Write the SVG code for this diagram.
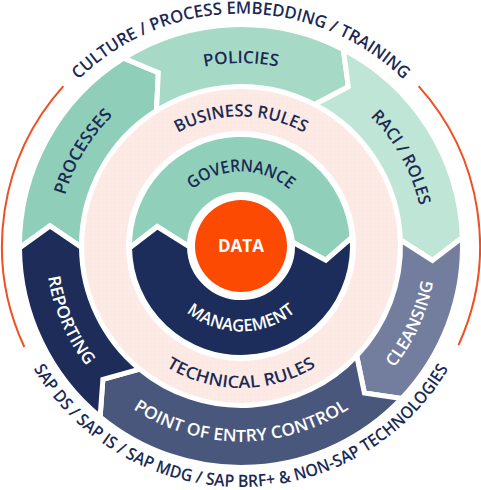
<svg xmlns="http://www.w3.org/2000/svg" width="481" height="490" viewBox="0 0 481 490">
<style>
.seg{stroke:#ffffff;stroke-width:5;stroke-linejoin:miter}
.lbl{font-family:"Open Sans","Liberation Sans",sans-serif;font-weight:600;font-size:17px}
.dk{fill:#1b2a55}
.lt{fill:#ffffff}
.arc{fill:none;stroke:#f04e23;stroke-width:2}
</style>
<defs>
<pattern id="dots" width="4" height="4" patternUnits="userSpaceOnUse">
<rect width="4" height="4" fill="#fce9e3"/>
<circle cx="1" cy="1" r="0.6" fill="#ffffff" opacity="0.55"/>
</pattern>
<path id="cw233" d="M8.5,246 A232.5,232.5 0 0 1 473.5,246 A232.5,232.5 0 0 1 8.5,246"/>
<path id="ccw241" d="M0,246 A241,241 0 0 0 482,246 A241,241 0 0 0 0,246"/>
<path id="cw183" d="M58,246 A183,183 0 0 1 424,246 A183,183 0 0 1 58,246"/>
<path id="ccw195" d="M45.5,246 A195.5,195.5 0 0 0 436.5,246 A195.5,195.5 0 0 0 45.5,246"/>
<path id="cw130" d="M111.5,246 A129.5,129.5 0 0 1 370.5,246 A129.5,129.5 0 0 1 111.5,246"/>
<path id="ccw141" d="M99,246 A142,142 0 0 0 383,246 A142,142 0 0 0 99,246"/>
<path id="cw75" d="M166.5,246 A74.5,74.5 0 0 1 315.5,246 A74.5,74.5 0 0 1 166.5,246"/>
<path id="ccw85" d="M155.5,246 A85.5,85.5 0 0 0 326.5,246 A85.5,85.5 0 0 0 155.5,246"/>
</defs>

<g id="outer-arcs">
<path class="arc" d="M24.39,347.01 A239,239 0 0 1 63.39,86.08"/>
<path class="arc" d="M418.61,86.08 A239,239 0 0 1 458.48,345.11"/>
</g>

<g id="culture">
<text class="lbl dk"><textPath href="#cw233" startOffset="25%" text-anchor="middle" textLength="360" lengthAdjust="spacingAndGlyphs">CULTURE / PROCESS EMBEDDING / TRAINING</textPath></text>
</g>
<g id="technologies">
<text class="lbl dk"><textPath href="#ccw241" startOffset="25%" text-anchor="middle" textLength="500" lengthAdjust="spacingAndGlyphs">SAP DS / SAP IS / SAP MDG / SAP BRF+ &amp; NON-SAP TECHNOLOGIES</textPath></text>
</g>

<g id="processes">
<path class="seg" fill="#8fceb8" d="M19.5,247.9 A221.5,221.5 0 0 1 123.62,58.16 L158.34,72.70 L156.48,110.74 A159.5,159.5 0 0 0 81.5,247.4 L50.05,225.9 Z"/>
<text class="lbl dk"><textPath href="#cw183" startOffset="8.56%" text-anchor="middle" textLength="94" lengthAdjust="spacingAndGlyphs">PROCESSES</textPath></text>
</g>
<g id="policies">
<path class="seg" fill="#a6dac7" d="M123.62,58.16 A221.5,221.5 0 0 1 343.28,49.53 L348.36,86.82 L314.65,104.52 A159.5,159.5 0 0 0 156.48,110.74 L158.34,72.70 Z"/>
<text class="lbl dk"><textPath href="#cw183" startOffset="25%" text-anchor="middle" textLength="74" lengthAdjust="spacingAndGlyphs">POLICIES</textPath></text>
</g>
<g id="raci">
<path class="seg" fill="#bfe5d6" d="M343.28,49.53 A221.5,221.5 0 0 1 462.34,237.50 L432.46,260.40 L400.38,239.88 A159.5,159.5 0 0 0 314.65,104.52 L348.36,86.82 Z"/>
<text class="lbl dk"><textPath href="#cw183" startOffset="41.97%" text-anchor="middle" textLength="103" lengthAdjust="spacingAndGlyphs">RACI / ROLES</textPath></text>
</g>
<g id="cleansing">
<path class="seg" fill="#737e9e" d="M462.34,237.50 A221.5,221.5 0 0 1 401.67,398.47 L364.42,393.08 L356.70,355.79 A159.5,159.5 0 0 0 400.38,239.88 L432.46,260.40 Z"/>
<text class="lbl lt"><textPath href="#ccw195" startOffset="43.17%" text-anchor="middle" textLength="95" lengthAdjust="spacingAndGlyphs">CLEANSING</textPath></text>
</g>
<g id="point-of-entry">
<path class="seg" fill="#4a577c" d="M401.67,398.47 A221.5,221.5 0 0 1 100.11,416.91 L102.89,379.37 L139.55,369.07 A159.5,159.5 0 0 0 356.70,355.79 L364.42,393.08 Z"/>
<text class="lbl lt"><textPath href="#ccw195" startOffset="25%" text-anchor="middle" textLength="229" lengthAdjust="spacingAndGlyphs">POINT OF ENTRY CONTROL</textPath></text>
</g>
<g id="reporting">
<path class="seg" fill="#1e2c59" d="M100.11,416.91 A221.5,221.5 0 0 1 19.5,247.9 L50.05,225.9 L81.5,247.4 A159.5,159.5 0 0 0 139.55,369.07 L102.89,379.37 Z"/>
<text class="lbl lt"><textPath href="#ccw195" startOffset="6.53%" text-anchor="middle" textLength="98" lengthAdjust="spacingAndGlyphs">REPORTING</textPath></text>
</g>

<g id="rules-ring">
<path fill="url(#dots)" fill-rule="evenodd" d="M84,246 A157,157 0 1 1 398,246 A157,157 0 1 1 84,246 Z M126,246 A115,115 0 1 0 356,246 A115,115 0 1 0 126,246 Z"/>
<text class="lbl dk"><textPath href="#cw130" startOffset="25%" text-anchor="middle" textLength="132" lengthAdjust="spacingAndGlyphs">BUSINESS RULES</textPath></text>
<text class="lbl dk"><textPath href="#ccw141" startOffset="25%" text-anchor="middle" textLength="158" lengthAdjust="spacingAndGlyphs">TECHNICAL RULES</textPath></text>
</g>

<g id="governance">
<path class="seg" fill="#90d0ba" d="M129.52,247.95 A111.5,111.5 0 0 1 352.16,237.25 L325.82,260.19 L292.34,241.96 A51.5,51.5 0 0 0 189.51,246.90 L157.20,226.65 Z"/>
<text class="lbl dk"><textPath href="#cw75" startOffset="25%" text-anchor="middle" textLength="106" lengthAdjust="spacingAndGlyphs">GOVERNANCE</textPath></text>
</g>
<g id="management">
<path class="seg" fill="#1c2d5b" d="M352.16,237.25 A111.5,111.5 0 1 1 129.52,247.95 L157.20,226.65 L189.51,246.90 A51.5,51.5 0 1 0 292.34,241.96 L325.82,260.19 Z"/>
<text class="lbl lt"><textPath href="#ccw85" startOffset="25%" text-anchor="middle" textLength="118" lengthAdjust="spacingAndGlyphs">MANAGEMENT</textPath></text>
</g>

<g id="data">
<circle cx="241" cy="246" r="46" fill="#fd4a02"/>
<text class="lt" x="241" y="252" text-anchor="middle" font-family="Open Sans, Liberation Sans, sans-serif" font-weight="700" font-size="17" textLength="46" lengthAdjust="spacingAndGlyphs">DATA</text>
</g>
</svg>
